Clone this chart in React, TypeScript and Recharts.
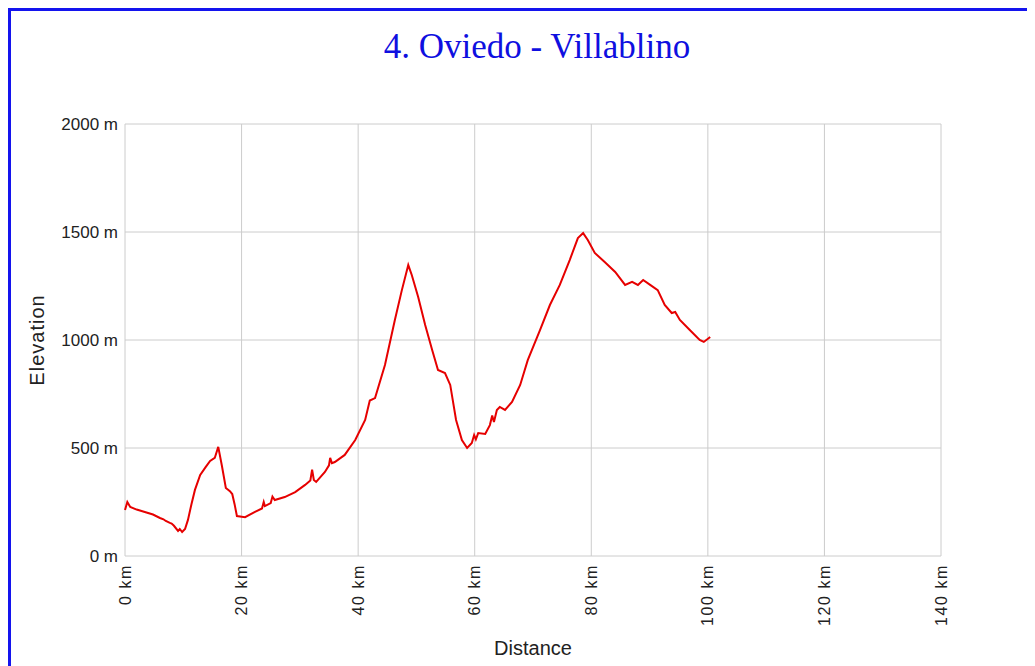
import React from "react";
import { LineChart, Line, XAxis, YAxis, CartesianGrid, Label } from "recharts";

// profile
const distanceKm = [
  0, 0.4, 0.9, 2.0, 3.4, 4.8, 6.0, 6.6, 7.0, 7.7, 8.0, 8.4, 9.1, 9.4, 9.8, 10.3, 10.8,
  11.4, 12.0, 12.9, 13.8, 14.6, 15.4, 16.0, 16.6, 17.3, 18.0, 18.4, 18.8, 19.2, 20.6,
  22.3, 23.5, 23.8, 24.0, 25.0, 25.3, 25.7, 27.4, 29.2, 30.9, 31.8, 32.1, 32.4, 32.8,
  34.3, 35.0, 35.2, 35.5, 36.0, 37.7, 39.5, 41.2, 42.0, 42.9, 44.6, 46.3, 47.5, 48.6,
  49.2, 50.3, 51.5, 52.7, 53.7, 54.9, 55.8, 56.8, 57.8, 58.7, 59.5, 59.9, 60.2, 60.6,
  61.8, 62.6, 63.0, 63.3, 63.8, 64.3, 65.2, 66.4, 67.8, 69.1, 71.2, 72.9, 74.6, 76.3,
  77.7, 78.6, 79.4, 80.6, 82.3, 84.1, 85.8, 87.0, 88.0, 88.9, 90.1, 91.4, 92.6, 93.8,
  94.4, 95.2, 96.9, 98.6, 99.3, 100.4,
];
const elevationM = [
  213, 250, 227, 215, 204, 192, 176, 170, 162, 153, 150, 140, 116, 125, 111, 125, 167,
  240, 306, 375, 410, 440, 454, 505, 421, 315, 300, 287, 240, 185, 180,
  204, 220, 250, 231, 245, 275, 259, 273, 296, 329, 350, 400, 352, 343,
  389, 420, 454, 430, 435, 468, 537, 630, 720, 731, 884, 1093, 1231, 1347,
  1301, 1199, 1069, 954, 861, 847, 792, 630, 537, 500, 523, 560, 540, 569,
  565, 606, 650, 620, 676, 690, 676, 713, 792, 907, 1046, 1162, 1255, 1370,
  1472, 1495, 1463, 1403, 1361, 1315, 1255, 1269, 1255, 1278, 1255, 1231, 1162, 1125,
  1130, 1093, 1046, 1000, 991, 1014,
];
const xTicks = [0, 20, 40, 60, 80, 100, 120, 140];
const yTicks = [0, 500, 1000, 1500, 2000];

const data = distanceKm.map((km, i) => ({ km, elevation: elevationM[i] }));

const textColor = "#222222";

const KmTick = (props: any) => {
  const { x, y, payload } = props;
  return (
    <text
      x={x}
      y={y}
      transform={`rotate(-90, ${x}, ${y})`}
      textAnchor="end"
      dominantBaseline="central"
      fontSize={16}
      letterSpacing={1.6}
      fill={textColor}
    >
      {payload.value} km
    </text>
  );
};

const App = () => {
  return (
    <div
      style={{
        position: "relative",
        width: 1040,
        height: 670,
        borderTop: "3px solid #1414ee",
        borderLeft: "3px solid #1414ee",
        fontFamily: "Arial, 'Liberation Sans', sans-serif",
      }}
    >
      <div
        style={{
          position: "absolute",
          left: 0,
          top: 18,
          width: 1052,
          textAlign: "center",
          fontFamily: "'Liberation Serif', 'Times New Roman', serif",
          fontSize: 35,
          lineHeight: "36px",
          color: "#0f0fe0",
        }}
      >
        4. Oviedo - Villablino
      </div>
      <LineChart
        width={1030}
        height={660}
        data={data}
        margin={{ top: 113, right: 100, left: 0, bottom: 0 }}
      >
        <CartesianGrid stroke="#cccccc" strokeWidth={1} />
        <XAxis
          type="number"
          dataKey="km"
          domain={[0, 140]}
          ticks={xTicks}
          axisLine={false}
          tickLine={false}
          height={115}
          tick={<KmTick />}
          interval={0}
        >
          <Label
            content={(p: any) => {
              const vb = p.viewBox;
              return (
                <text
                  x={vb.x + vb.width / 2}
                  y={637}
                  textAnchor="middle"
                  dominantBaseline="central"
                  fontSize={20}
                  fill={textColor}
                >
                  Distance
                </text>
              );
            }}
          />
        </XAxis>
        <YAxis
          type="number"
          domain={[0, 2000]}
          ticks={yTicks}
          axisLine={false}
          tickLine={false}
          width={114}
          interval={0}
          tickFormatter={(v: number) => `${v} m`}
          tick={{ fontSize: 17, fill: textColor }}
          tickMargin={1}
        >
          <Label
            content={(p: any) => {
              const vb = p.viewBox;
              const cy = vb.y + vb.height / 2;
              return (
                <text
                  x={26}
                  y={cy}
                  transform={`rotate(-90, 26, ${cy})`}
                  textAnchor="middle"
                  dominantBaseline="central"
                  fontSize={20}
                  letterSpacing={1}
                  fill={textColor}
                >
                  Elevation
                </text>
              );
            }}
          />
        </YAxis>
        <Line
          type="linear"
          dataKey="elevation"
          stroke="#e60000"
          strokeWidth={2}
          dot={false}
          isAnimationActive={false}
        />
      </LineChart>
    </div>
  );
};

export default App;
